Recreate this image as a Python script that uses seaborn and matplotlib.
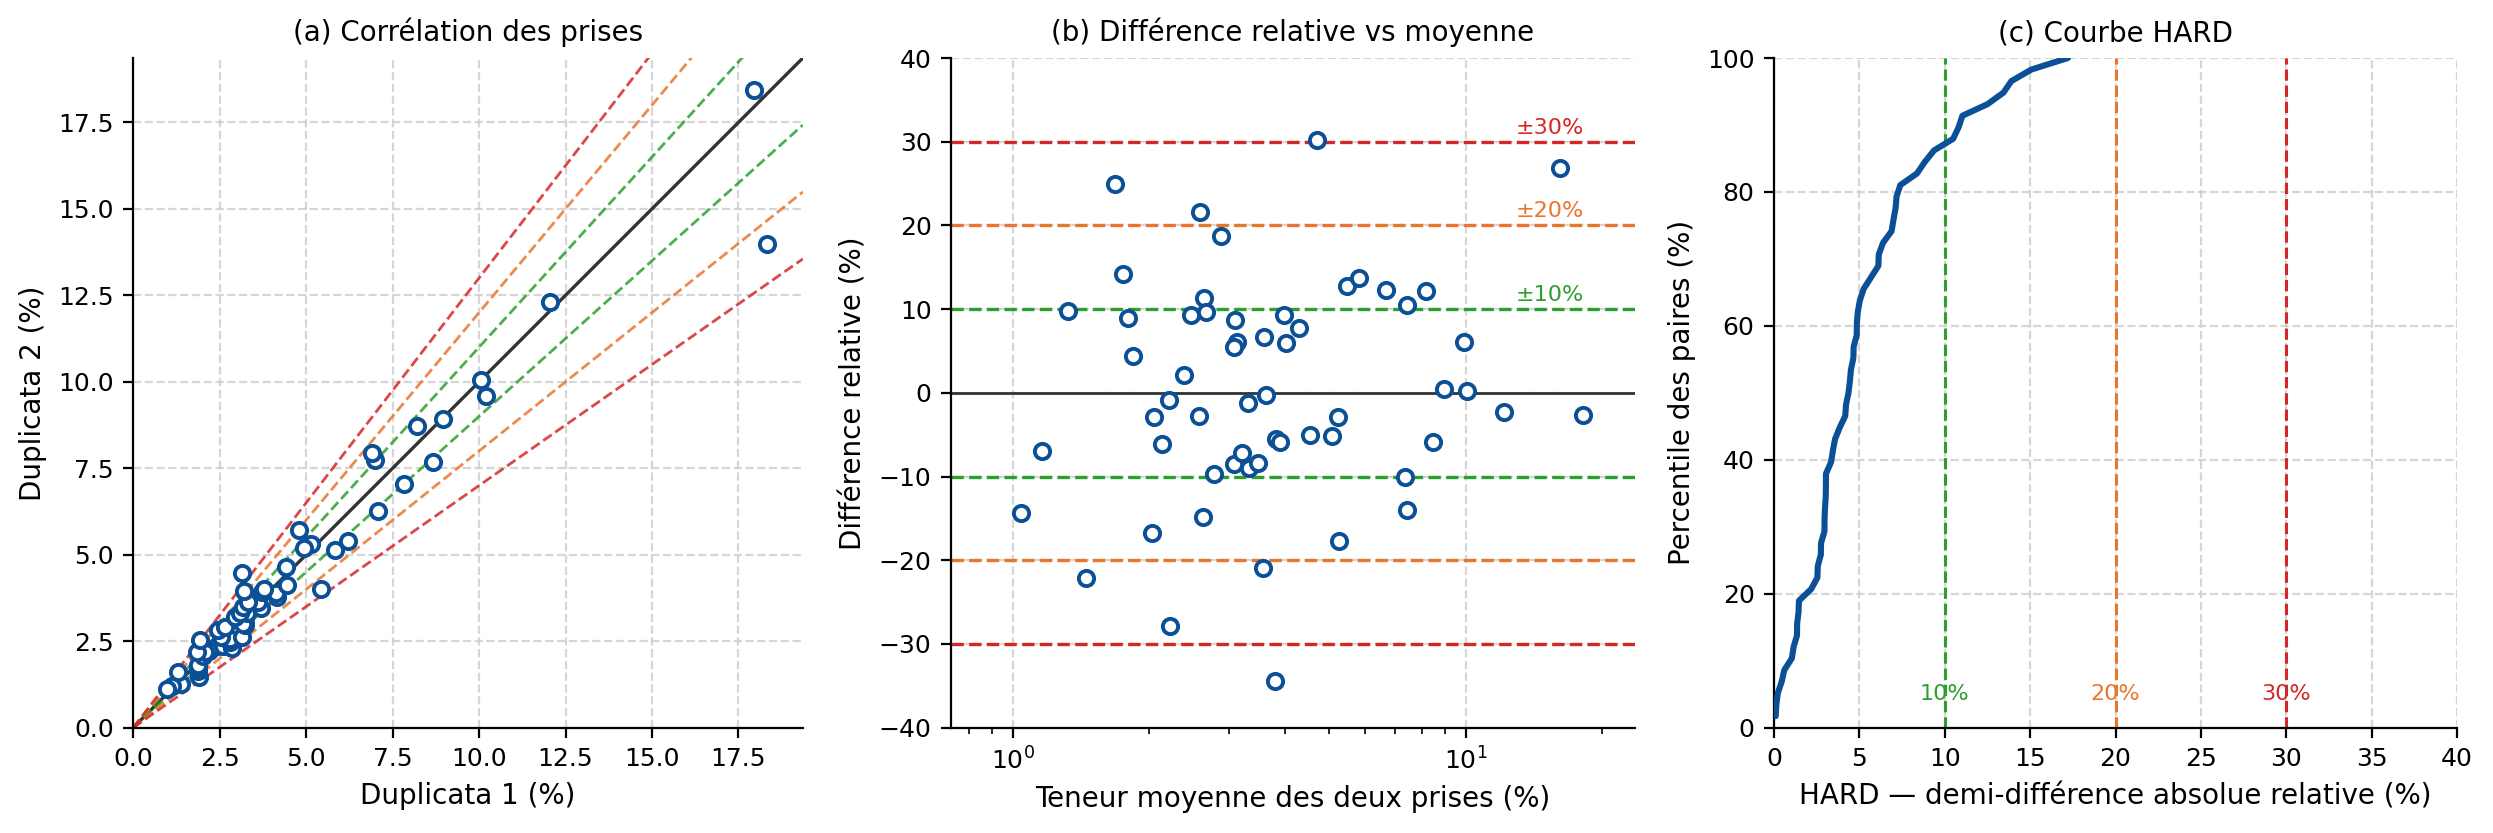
import numpy as np
import pandas as pd
import matplotlib
matplotlib.use('Agg')
import matplotlib.pyplot as plt
import seaborn as sns

# duplicate assays (%), one pair per sample
dup1 = [1.39, 1.89, 1.88, 1.88, 1.88, 2.42, 2.20, 2.02, 2.59, 2.87,
        2.79, 2.81, 2.55, 3.15, 3.23, 3.22, 3.17, 3.29, 3.71, 3.62,
        4.15, 4.14, 4.45, 5.42, 5.15, 5.83, 6.21, 7.09, 7.82, 8.68,
        8.96, 10.20, 10.06, 12.04, 18.32, 17.95, 2.07, 1.12, 0.97, 1.29,
        1.86, 1.92, 2.44, 2.65, 2.95, 3.10, 3.18, 3.33, 3.20, 3.72,
        3.77, 3.15, 4.41, 4.94, 4.80, 6.99, 6.91, 8.21]
dup2 = [1.26, 1.47, 1.63, 1.72, 1.80, 2.37, 2.22, 2.08, 2.36, 2.31,
        2.49, 2.55, 2.62, 2.61, 2.96, 3.03, 3.00, 3.33, 3.47, 3.63,
        3.78, 3.90, 4.12, 4.00, 5.30, 5.13, 5.41, 6.27, 7.04, 7.68,
        8.92, 9.60, 10.04, 12.32, 13.98, 18.44, 2.20, 1.20, 1.12, 1.61,
        2.20, 2.54, 2.83, 2.92, 3.21, 3.33, 3.48, 3.62, 3.95, 3.93,
        4.00, 4.46, 4.64, 5.20, 5.73, 7.73, 7.95, 8.71]

TOLS = [10, 20, 30]
TOL_COLORS = ['#2ca02c', '#e8772e', '#d62728']
BLUE = '#0b4f96'

sns.set_theme(style='ticks')
plt.rcParams.update({
    'font.family': 'DejaVu Sans',
    'font.size': 9,
    'axes.titlesize': 10,
    'axes.labelsize': 10,
    'xtick.labelsize': 9,
    'ytick.labelsize': 9,
    'axes.edgecolor': 'black',
    'axes.linewidth': 0.8,
    'text.color': 'black',
    'axes.labelcolor': 'black',
    'xtick.color': 'black',
    'ytick.color': 'black',
    'xtick.major.size': 3.5,
    'ytick.major.size': 3.5,
    'xtick.minor.size': 2,
    'ytick.minor.size': 2,
    'xtick.major.width': 0.8,
    'ytick.major.width': 0.8,
    'xtick.minor.width': 0.6,
    'ytick.minor.width': 0.6,
})

df = pd.DataFrame({'d1': dup1, 'd2': dup2})
df['mean'] = (df['d1'] + df['d2']) / 2
df['rel'] = (df['d1'] - df['d2']) / df['mean'] * 100
df['hard'] = (df['d1'] - df['d2']).abs() / (df['d1'] + df['d2']) * 100

W, H = 2493, 833
fig = plt.figure(figsize=(W / 200, H / 200), dpi=200)
bot, hgt = 1 - 727.7 / H, 669.7 / H
ax1 = fig.add_axes([126 / W, bot, 684 / W, hgt])
ax2 = fig.add_axes([951 / W, bot, 684 / W, hgt])
ax3 = fig.add_axes([1774 / W, bot, 683 / W, hgt])

grid_kw = dict(linestyle='--', color='#cccccc', linewidth=0.8, alpha=0.8)

# (a) duplicate 1 vs duplicate 2
lim = max(df['d1'].max(), df['d2'].max()) * 1.05
xs = np.array([0, lim])
ax1.plot(xs, xs, color='#333333', lw=1.2, zorder=2)
for t, c in zip(TOLS, TOL_COLORS):
    ax1.plot(xs, xs * (1 + t / 100), '--', color=c, lw=1, alpha=0.85, zorder=2)
    ax1.plot(xs, xs * (1 - t / 100), '--', color=c, lw=1, alpha=0.85, zorder=2)
sns.scatterplot(data=df, x='d1', y='d2', ax=ax1, s=30, color='white',
                edgecolor=BLUE, linewidth=1.4, zorder=3)
ax1.set_xlim(0, lim)
ax1.set_ylim(0, lim)
ax1.set_aspect('equal')
ax1.grid(True, **grid_kw)
ax1.set_xlabel('Duplicata 1 (%)')
ax1.set_ylabel('Duplicata 2 (%)')
ax1.set_title('(a) Corrélation des prises')

# (b) relative difference vs mean
ax2.set_xscale('log')
ax2.axhline(0, color='#333333', lw=1, zorder=2)
for t, c in zip(TOLS, TOL_COLORS):
    ax2.axhline(t, ls='--', color=c, lw=1.2, zorder=2)
    ax2.axhline(-t, ls='--', color=c, lw=1.2, zorder=2)
    ax2.text(df['mean'].max(), t + 0.5, f'±{t}%', color=c, fontsize=8,
             ha='right', va='bottom')
sns.scatterplot(data=df, x='mean', y='rel', ax=ax2, s=30, color='white',
                edgecolor=BLUE, linewidth=1.4, zorder=3)
ax2.set_xlim(df['mean'].min() * 0.7, df['mean'].max() * 1.3)
ax2.set_ylim(-40, 40)
ax2.set_yticks(range(-40, 41, 10))
ax2.grid(True, which='major', **grid_kw)
ax2.set_xlabel('Teneur moyenne des deux prises (%)')
ax2.set_ylabel('Différence relative (%)')
ax2.set_title('(b) Différence relative vs moyenne')

# (c) HARD curve
hard_sorted = np.sort(df['hard'].values)
pct = np.arange(1, len(hard_sorted) + 1) / len(hard_sorted) * 100
sns.lineplot(x=hard_sorted, y=pct, ax=ax3, estimator=None, sort=False,
             color=BLUE, lw=2.2, zorder=3)
for t, c in zip(TOLS, TOL_COLORS):
    ax3.axvline(t, ls='--', color=c, lw=1.1, zorder=2)
    ax3.text(t, 5, f'{t}%', color=c, fontsize=8, ha='center', va='center')
ax3.set_xlim(0, 40)
ax3.set_ylim(0, 100)
ax3.set_xticks(range(0, 41, 5))
ax3.set_yticks(range(0, 101, 20))
ax3.grid(True, **grid_kw)
ax3.set_xlabel('HARD — demi-différence absolue relative (%)')
ax3.set_ylabel('Percentile des paires (%)')
ax3.set_title('(c) Courbe HARD')

for ax in (ax1, ax2, ax3):
    sns.despine(ax=ax)
    ax.set_axisbelow(True)

fig.savefig('out.png', dpi=200)
